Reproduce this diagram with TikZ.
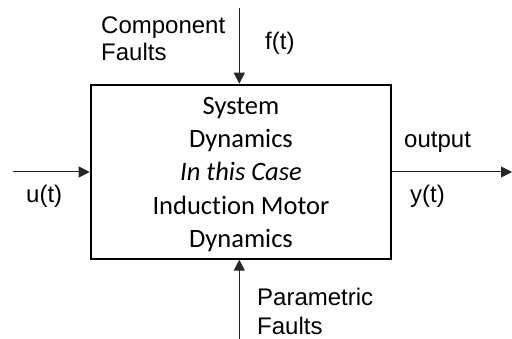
\documentclass[tikz,border=0pt]{standalone}
\usepackage{fontspec}
\setmainfont{Carlito}[Ligatures=NoCommon]
\newfontfamily\labelfont{Liberation Sans}
\usetikzlibrary{arrows.meta}
\begin{document}
\begin{tikzpicture}[x=1pt,y=-1pt,
  sig/.style={draw=black!85, line width=1pt, -{Triangle[length=11pt,width=11pt]}},
  lbl/.style={font=\labelfont\fontsize{24}{28}\selectfont, inner sep=0pt, anchor=base west, align=left},
  body/.style={font=\fontsize{26.5}{33}\selectfont, inner sep=0pt, anchor=base}]
  \useasboundingbox (0,0) rectangle (512,339);
  % the system block
  \node[draw, line width=2pt, minimum width=300.6pt, minimum height=174pt, inner sep=0pt] (sys) at (241,171.7) {};
  \node[body] (t1) at (241,115) {System};
  \node[body] (t2) at (241,148) {Dynamics};
  \node[body] (t3) at (241,181) {\itshape In this Case};
  \node[body] (t4) at (241,215) {Induction Motor};
  \node[body] (t5) at (241,248) {Dynamics};
  % signal end points
  \coordinate (fin) at (239.3,8);
  \coordinate (pin) at (239.3,339);
  \coordinate (uin) at (13,172);
  \coordinate (yout) at (512,172);
  \draw[sig] (fin) -- (fin |- sys.north);
  \draw[sig] (pin) -- (pin |- sys.south);
  \draw[sig] (uin) -- (uin -| sys.west);
  \draw[sig] (yout -| sys.east) -- (yout);
  % labels
  \node[lbl] (comp) at (101,34) {Component};
  \node[lbl] (compf) at (101,61) {Faults};
  \node[lbl] (ft) at (265,50) {f(t)};
  \node[lbl] (ut) at (26,203) {u(t)};
  \node[lbl] (outp) at (404,148) {output};
  \node[lbl] (yt) at (410,203) {y(t)};
  \node[lbl] (par) at (257,306) {Parametric};
  \node[lbl] (parf) at (257,335) {Faults};
\end{tikzpicture}
\end{document}
